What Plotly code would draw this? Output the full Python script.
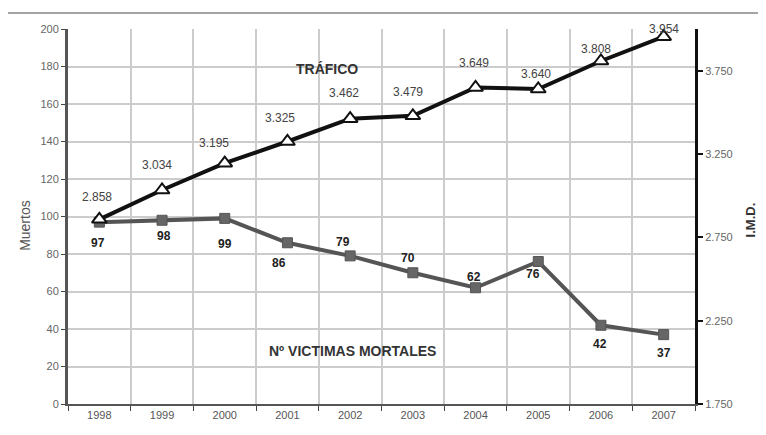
import plotly.graph_objects as go

years = ["1998", "1999", "2000", "2001", "2002", "2003", "2004", "2005", "2006", "2007"]
imd = [2.858, 3.034, 3.195, 3.325, 3.462, 3.479, 3.649, 3.640, 3.808, 3.954]
victimas = [97, 98, 99, 86, 79, 70, 62, 76, 42, 37]

left_ticks = [0, 20, 40, 60, 80, 100, 120, 140, 160, 180, 200]
right_ticks = [1.75, 2.25, 2.75, 3.25, 3.75]
right_ticktext = ["1.750", "2.250", "2.750", "3.250", "3.750"]

# label offsets (pixels) - styling only
imd_dx = [-2, -5, -11, -7, -6, -5, -2, -2, -5, 0]
imd_dy = [22, 25, 20, 24, 26, 24, 25, 15, 12, 8]
vic_dx = [-1, 2, 0, -8, -7, -5, -2, -5, -1, 0]
vic_dy = [-21, -16, -26, -20, 14, 15, 11, -12, -19, -18]

fig = go.Figure()
fig.add_trace(go.Scatter(
    x=years, y=imd, yaxis="y2", mode="lines+markers",
    line=dict(color="#111111", width=4),
    marker=dict(symbol="triangle-up", size=13, color="white",
                line=dict(color="#111111", width=2)),
    showlegend=False, hoverinfo="skip"))
fig.add_trace(go.Scatter(
    x=years, y=victimas, yaxis="y", mode="lines+markers",
    line=dict(color="#555555", width=4),
    marker=dict(symbol="square", size=10, color="#666666",
                line=dict(color="#555555", width=1)),
    showlegend=False, hoverinfo="skip"))

ann = []
for i, v in enumerate(imd):
    ann.append(dict(x=i, y=v, xref="x", yref="y2", text=f"{v:.3f}",
                    showarrow=False, xshift=imd_dx[i], yshift=imd_dy[i],
                    xanchor="center", yanchor="middle",
                    font=dict(family="Liberation Sans", size=12, color="#444444")))
for i, v in enumerate(victimas):
    ann.append(dict(x=i, y=v, xref="x", yref="y", text=f"<b>{v}</b>",
                    showarrow=False, xshift=vic_dx[i], yshift=vic_dy[i],
                    xanchor="center", yanchor="middle",
                    font=dict(family="Liberation Sans", size=12, color="#222222")))
ann.append(dict(x=0.413, y=0.893, xref="paper", yref="paper", text="<b>TRÁFICO</b>",
                showarrow=False, xanchor="center", yanchor="middle",
                font=dict(family="Liberation Sans", size=14, color="#333333")))
ann.append(dict(x=0.453, y=0.141, xref="paper", yref="paper", text="<b>Nº VICTIMAS MORTALES</b>",
                showarrow=False, xanchor="center", yanchor="middle",
                font=dict(family="Liberation Sans", size=14, color="#333333")))
ann.append(dict(x=-0.069, y=0.477, xref="paper", yref="paper", text="Muertos",
                textangle=-90, showarrow=False, xanchor="center", yanchor="middle",
                font=dict(family="Liberation Sans", size=14, color="#555555")))
ann.append(dict(x=1.088, y=0.49, xref="paper", yref="paper", text="<b>I.M.D.</b>",
                textangle=-90, showarrow=False, xanchor="center", yanchor="middle",
                font=dict(family="Liberation Sans", size=13, color="#333333")))

fig.update_layout(
    width=766, height=435,
    margin=dict(l=60, r=79, t=21, b=39),
    paper_bgcolor="white", plot_bgcolor="white",
    font=dict(family="Liberation Sans", size=11, color="#555555"),
    annotations=ann,
    xaxis=dict(type="category", categoryorder="array", categoryarray=years,
               tickson="boundaries", ticks="outside", ticklen=5, tickcolor="#444444",
               showgrid=True, gridcolor="#cccccc", gridwidth=1.5,
               showline=True, linecolor="#555555", linewidth=2,
               tickfont=dict(size=11, color="#555555"), range=[-0.5, 9.5]),
    yaxis=dict(range=[0, 200], tickvals=left_ticks, ticks="outside", ticklen=4,
               tickcolor="#444444", showgrid=True, gridcolor="#cccccc", gridwidth=1.5,
               showline=True, linecolor="#555555", linewidth=3, zeroline=False,
               tickfont=dict(size=11, color="#666666")),
    yaxis2=dict(range=[1.75, 4.0], overlaying="y", side="right",
                tickvals=right_ticks, ticktext=right_ticktext,
                ticks="outside", ticklen=5, tickcolor="#111111", tickwidth=2,
                showgrid=False, showline=True, linecolor="#111111", linewidth=3,
                zeroline=False, tickfont=dict(size=11, color="#666666")),
    shapes=[dict(type="rect", xref="paper", yref="paper",
                 x0=-0.0973, x1=1.2, y0=-0.3, y1=1.0427,
                 line=dict(color="#888888", width=1.5), layer="below")],
)

fig.write_html("out.html")
